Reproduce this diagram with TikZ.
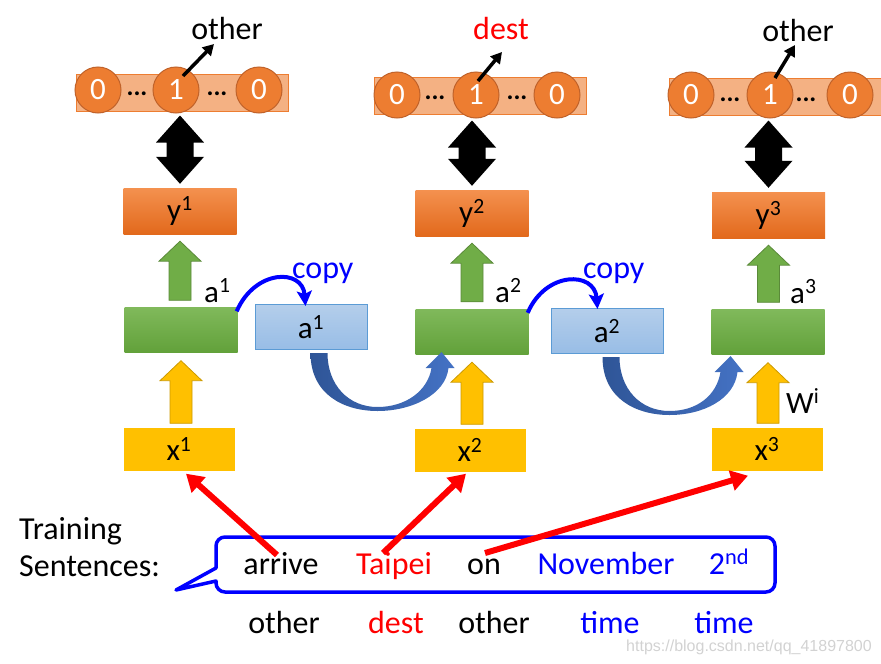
\documentclass[tikz,border=0pt]{standalone}
\usepackage{fontspec}
\setmainfont{Carlito}
\newfontfamily\wmfont{Liberation Sans}
\usetikzlibrary{arrows.meta}
\definecolor{hotorange}{HTML}{ED7D31}
\definecolor{hotedge}{HTML}{C0622A}
\definecolor{barfill}{HTML}{F4B183}
\definecolor{ytop}{HTML}{F4914F}
\definecolor{ybot}{HTML}{E2691C}
\definecolor{gtop}{HTML}{80B95B}
\definecolor{gbot}{HTML}{62A13A}
\definecolor{garrow}{HTML}{70AD47}
\definecolor{xfill}{HTML}{FFC000}
\definecolor{ctop}{HTML}{B4CEEB}
\definecolor{cbot}{HTML}{98BDE6}
\definecolor{cedge}{HTML}{5B9BD5}
\definecolor{curvedark}{HTML}{2F5597}
\definecolor{curvelight}{HTML}{4472C4}
\definecolor{pureblue}{HTML}{0000FF}
\definecolor{purered}{HTML}{FF0000}
\tikzset{
  box text/.style={font=\fontsize{31}{36}\selectfont},
  label text/.style={font=\fontsize{32}{37}\selectfont},
  ybox/.style={
    top color=ytop, bottom color=ybot,
    minimum width=113pt, minimum height=46pt, inner sep=0pt, box text,
  },
  gbox/.style={
    top color=gtop, bottom color=gbot,
    minimum width=113pt, minimum height=45pt,
  },
  xbox/.style={
    fill=xfill,
    minimum width=111pt, minimum height=43pt, inner sep=0pt, box text,
  },
  abox/.style={
    top color=ctop, bottom color=cbot, draw=cedge, line width=1pt,
    minimum width=112pt, minimum height=45pt, inner sep=0pt, box text,
  },
  onehot/.style={
    fill=barfill, draw=hotorange, line width=1pt,
    minimum width=212pt, minimum height=37pt,
  },
  bit/.style={
    circle, fill=hotorange, draw=hotedge, line width=1pt,
    minimum size=46pt, inner sep=0pt, text=white, box text,
  },
  gap dots/.style={anchor=base, inner sep=0pt, font=\fontsize{26}{30}\selectfont\bfseries},
  tag/.style={anchor=base, inner sep=0pt, label text},
  sentword/.style={anchor=base, inner sep=0pt, label text},
  tag arrow/.style={line width=3.5pt, -{Triangle[length=11pt,width=12pt]}},
  copy arrow/.style={pureblue, line width=4pt, -{Stealth[length=15pt,width=15pt,inset=3pt]}},
  word arrow/.style={purered, line width=6pt, -{Triangle[length=17pt,width=20pt]}},
  bubble/.style={draw=pureblue, fill=white, line width=3.5pt, line join=round},
}
\newcommand{\uparrowfill}[5]{%
  \filldraw [fill=#1, draw=#1!80!black, line width=0.8pt]
    ([xshift=-11pt,yshift=#4]#2) -- ([xshift=-11pt,yshift=-20pt-#5]#3)
    -- ([xshift=-21pt,yshift=-20pt-#5]#3) -- ([yshift=-#5]#3)
    -- ([xshift=21pt,yshift=-20pt-#5]#3) -- ([xshift=11pt,yshift=-20pt-#5]#3)
    -- ([xshift=11pt,yshift=#4]#2) -- cycle;}
\newcommand{\twoway}[2]{%
  \fill ([yshift=-2pt]#1) -- ([xshift=24pt,yshift=-29pt]#1) -- ([xshift=13.5pt,yshift=-29pt]#1)
    -- ([xshift=13.5pt,yshift=31pt]#2) -- ([xshift=24pt,yshift=31pt]#2) -- ([yshift=4pt]#2)
    -- ([xshift=-24pt,yshift=31pt]#2) -- ([xshift=-13.5pt,yshift=31pt]#2)
    -- ([xshift=-13.5pt,yshift=-29pt]#1) -- ([xshift=-24pt,yshift=-29pt]#1) -- cycle;}

\begin{document}
\begin{tikzpicture}[x=1pt,y=-1pt]
    \useasboundingbox (0,0) rectangle (881,664);

    \node [onehot] (oh1) at (182,92.5) {};
    \node [bit] (h1l) at (98,90) {0};
    \node [bit] (h1m) at (176,90) {1};
    \node [bit] (h1r) at (259,90) {0};
    \node [gap dots] at (137,95) {...};
    \node [gap dots] at (217,95) {...};
    \node [tag] (t1) at (227,39) {other};
    \draw [tag arrow] ([shift={(7,-14)}]h1m.center) -- ([shift={(-13,5)}]t1.base);

    \node [onehot] (oh2) at (480.5,96) {};
    \node [bit] (h2l) at (397,95) {0};
    \node [bit] (h2m) at (476,95) {1};
    \node [bit] (h2r) at (557,95) {0};
    \node [gap dots] at (435,99) {...};
    \node [gap dots] at (517,99) {...};
    \node [tag, purered] (t2) at (501,39) {dest};
    \draw [tag arrow] ([shift={(2,-14)}]h2m.center) -- ([shift={(1,13)}]t2.base);

    \node [onehot] (oh3) at (775,97) {};
    \node [bit] (h3l) at (691,95) {0};
    \node [bit] (h3m) at (770,95) {1};
    \node [bit] (h3r) at (850,95) {0};
    \node [gap dots] at (730,101) {...};
    \node [gap dots] at (806,101) {...};
    \node [tag] (t3) at (798,41) {other};
    \draw [tag arrow] ([shift={(5,-17)}]h3m.center) -- ([shift={(-3,4)}]t3.base);

    \node [ybox] (y1) at (180,211) {y\textsuperscript{1}};
    \node [ybox] (y2) at (472,213) {y\textsuperscript{2}};
    \node [ybox] (y3) at (768.5,215) {y\textsuperscript{3}};
    \node [gbox] (g1) at (181,330) {};
    \node [gbox] (g2) at (472,331.5) {};
    \node [gbox] (g3) at (768,332) {};
    \node [xbox] (x1) at (179,449) {x\textsuperscript{1}};
    \node [xbox] (x2) at (470,450) {x\textsuperscript{2}};
    \node [xbox] (x3) at (767,449) {x\textsuperscript{3}};
    \node [abox] (c1) at (311,327) {a\textsuperscript{1}};
    \node [abox] (c2) at (607,331) {a\textsuperscript{2}};

    \twoway{y1.north |- h1m.south}{y1.north}
    \twoway{y2.north |- h2m.south}{y2.north}
    \twoway{y3.north |- h3m.south}{y3.north}

    \uparrowfill{garrow}{y1.south |- g1.north}{y1.south}{7pt}{7pt}
    \uparrowfill{garrow}{y2.south |- g2.north}{y2.south}{7pt}{7pt}
    \uparrowfill{garrow}{y3.south |- g3.north}{y3.south}{7pt}{7pt}
    \uparrowfill{xfill}{g1.south |- x1.north}{g1.south}{4pt}{8pt}
    \uparrowfill{xfill}{g2.south |- x2.north}{g2.south}{4pt}{8pt}
    \uparrowfill{xfill}{g3.south |- x3.north}{g3.south}{4pt}{8pt}

    \node [box text, anchor=base west, inner sep=0pt] (a1) at (204,302) {a\textsuperscript{1}};
    \node [box text, anchor=base west, inner sep=0pt] (a2) at (495,302) {a\textsuperscript{2}};
    \node [box text, anchor=base west, inner sep=0pt] (a3) at (790,303) {a\textsuperscript{3}};
    \node [box text, anchor=base west, inner sep=0pt] (wi) at (786,413) {W\textsuperscript{i}};

    \node [label text, pureblue, anchor=base west, inner sep=0pt] (cp1) at (292,278) {copy};
    \node [label text, pureblue, anchor=base west, inner sep=0pt] (cp2) at (583,278) {copy};
    \draw [copy arrow] ([shift={(-1,4)}]g1.north east) .. controls +(18,-42) and +(-3,-38) .. ([shift={(51,2)}]c1.north west);
    \draw [copy arrow] ([shift={(-1,4)}]g2.north east) .. controls +(18,-42) and +(-3,-38) .. ([shift={(47,1)}]c2.north west);

    \begin{scope}[shift={(c1.south west)}]
        \shade [left color=curvedark, right color=curvelight] (56,3) .. controls (56,45) and (90,61) .. (123,61)
            .. controls (157,61) and (191,45) .. (194,18) -- (200,18) -- (187,2) -- (171,18) -- (177,18)
            .. controls (173,42) and (150,57) .. (123,57) .. controls (94,57) and (73,35) .. (73,3) -- cycle;
    \end{scope}
    \begin{scope}[shift={(c2.south west)}]
        \shade [left color=curvedark, right color=curvelight] (52,3) .. controls (52,45) and (86,61) .. (119,61)
            .. controls (153,61) and (184,45) .. (187,18) -- (193,18) -- (180,2) -- (164,18) -- (170,18)
            .. controls (166,42) and (146,57) .. (119,57) .. controls (90,57) and (69,35) .. (69,3) -- cycle;
    \end{scope}

    \draw [bubble] (216,581) [rounded corners=9pt] -- (216,592) -- (775,592) -- (775,537) -- (216,537)
        [sharp corners] -- (216,568) -- (176,590) -- cycle;
    \node [sentword] (w1) at (281,574) {arrive};
    \node [sentword, purered] (w2) at (394,574) {Taipei};
    \node [sentword] (w3) at (484,574) {on};
    \node [sentword, pureblue] (w4) at (606,574) {November};
    \node [sentword, pureblue] (w5) at (729,574) {2\textsuperscript{nd}};
    \draw [word arrow] ([shift={(-4,-19)}]w1.base) -- ([shift={(7,3)}]x1.south);
    \draw [word arrow] ([shift={(-11,-21)}]w2.base) -- ([shift={(-4,2)}]x2.south);
    \draw [word arrow] ([shift={(1,-21)}]w3.base) -- ([shift={(-19,5)}]x3.south);

    \node [anchor=base west, inner sep=0pt, font=\fontsize{32}{37}\selectfont] (tr1) at (19,539) {Training};
    \node [anchor=base west, inner sep=0pt, font=\fontsize{32}{37}\selectfont] (tr2) at (19,576) {Sentences:};

    \node [sentword] (s1) at (284,633) {other};
    \node [sentword, purered] (s2) at (396,633) {dest};
    \node [sentword] (s3) at (494,633) {other};
    \node [sentword, pureblue] (s4) at (610,633) {time};
    \node [sentword, pureblue] (s5) at (724,633) {time};

    \node [font=\wmfont\fontsize{16}{19}\selectfont, text=gray!35, inner sep=0pt] (wm) at (749,647) {https://blog.csdn.net/qq\_41897800};
\end{tikzpicture}
\end{document}
